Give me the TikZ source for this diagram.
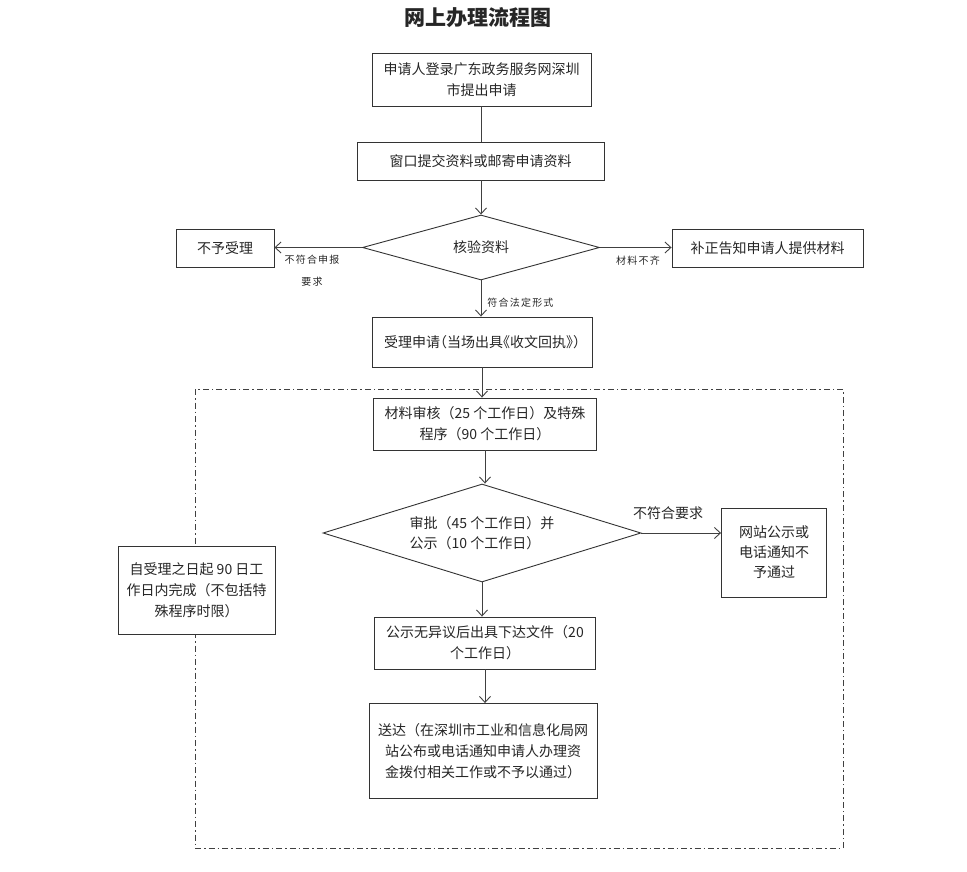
\documentclass[tikz,border=0pt]{standalone}
\usepackage{fontspec}
\setmainfont{Noto Sans CJK SC}
\newfontfamily\lblfont[LetterSpace=12]{Noto Sans CJK SC}
\usetikzlibrary{shapes.geometric,arrows.meta}
\begin{document}
\begin{tikzpicture}[x=1pt,y=-1pt,
  line width=0.9pt,
  every node/.style={text=black!85},
  box/.style={draw=black!80, fill=white, rectangle, align=center, inner sep=2pt,
    font=\fontsize{14}{21}\selectfont},
  dia/.style={draw=black!80, fill=white, diamond, inner sep=1pt,
    font=\fontsize{14}{20}\selectfont},
  lbl/.style={font=\lblfont\fontsize{10}{22}\selectfont, inner sep=0pt, align=center},
  arr/.style={draw=black!75, -{Straight Barb[length=6pt,width=11pt]}},
  ln/.style={draw=black!75},
  frame/.style={draw=black!75, line width=0.8pt, dash pattern=on 6pt off 3pt on 1.5pt off 3pt}
]
\useasboundingbox (0,0) rectangle (967,872);

\node[font=\fontsize{21}{24}\selectfont\bfseries] (title) at (478,18) {网上办理流程图};

\draw[frame] (195,389) rectangle (843,848);

\node[box, minimum width=219, minimum height=53] (b1) at (481.5,79.5)
  {申请人登录广东政务服务网深圳\\市提出申请};
\node[box, minimum width=247, minimum height=38] (b2) at (480.5,161)
  {窗口提交资料或邮寄申请资料};
\node[dia, minimum width=237, minimum height=65, aspect=3.6] (d1) at (481,247.5) {核验资料};
\node[box, minimum width=98, minimum height=38] (rej) at (225,248.5) {不予受理};
\node[box, minimum width=191, minimum height=38] (sup) at (767.5,248.5) {补正告知申请人提供材料};
\node[box, minimum width=220, minimum height=50] (acc) at (482,342)
  {受理申请\kern-7pt（当场出具\kern-7pt《收文回执》\kern-7pt）\kern-7pt};

\node[box, minimum width=223, minimum height=52] (rev) at (485,424)
  {材料审核（25 个工作日）及特殊\\程序（90 个工作日）};
\node[dia, minimum width=318, minimum height=98, aspect=3.25, align=left] (d2) at (482,533)
  {审批（45 个工作日）并\\公示（10 个工作日）};
\node[box, minimum width=105, minimum height=89, font=\fontsize{14}{20}\selectfont] (web) at (774,552.5)
  {网站公示或\\电话通知不\\予通过};
\node[box, minimum width=157, minimum height=88] (note) at (196.5,590)
  {自受理之日起 90 日工\\作日内完成（不包括特\\殊程序时限）};
\node[box, minimum width=221, minimum height=52] (iss) at (485,643)
  {公示无异议后出具下达文件（20\\个工作日）};
\node[box, minimum width=228, minimum height=95] (del) at (483,751)
  {送达（在深圳市工业和信息化局网\\站公布或电话通知申请人办理资\\金拨付相关工作或不予以通过）};

\draw[ln] (b1.south) -- (b1.south |- b2.north);
\draw[arr] (b2.south -| d1.north) -- (d1.north);
\draw[arr] (d1.west) -- (rej.east |- d1.west);
\draw[arr] (d1.east) -- (sup.west |- d1.east);
\draw[arr] (d1.south) -- (d1.south |- acc.north);
\draw[arr] (acc.south) -- (acc.south |- rev.north);
\draw[arr] (rev.south) -- (rev.south |- d2.north);
\draw[arr] (d2.east) -- (web.west |- d2.east);
\draw[arr] (d2.south) -- (d2.south |- iss.north);
\draw[arr] (iss.south) -- (iss.south |- del.north);

\node[lbl] (l1) at (312,271) {不符合申报\\要求};
\node[lbl] (l2) at (638,261) {材料不齐};
\node[lbl, anchor=west] (l3) at (487,303) {符合法定形式};
\node[font=\fontsize{14}{20}\selectfont, inner sep=0pt] (l4) at (668,513) {不符合要求};
\end{tikzpicture}
\end{document}
